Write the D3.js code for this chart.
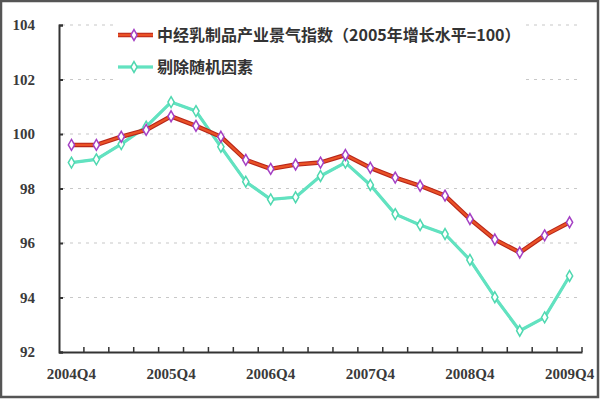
<!DOCTYPE html>
<html>
<head>
<meta charset="utf-8">
<script src="https://cdn.jsdelivr.net/npm/d3@7"></script>
<style>
  body { margin: 0; background: #fff; }
  svg { display: block; }
  .axis text { font-family: "Liberation Serif", "DejaVu Serif", serif; font-weight: bold; font-size: 15px; }
</style>
</head>
<body>
<div id="chart"></div>
<script>
var quarters = ["2004Q4","2005Q1","2005Q2","2005Q3","2005Q4","2006Q1","2006Q2","2006Q3","2006Q4",
                "2007Q1","2007Q2","2007Q3","2007Q4","2008Q1","2008Q2","2008Q3","2008Q4",
                "2009Q1","2009Q2","2009Q3","2009Q4"];
var tickLabels = ["2004Q4","2005Q4","2006Q4","2007Q4","2008Q4","2009Q4"];
var yTicks = [92, 94, 96, 98, 100, 102, 104];

var indexName = "中经乳制品产业景气指数（2005年增长水平=100）";
var indexValues = [99.6, 99.6, 99.9, 100.15, 100.65, 100.3, 99.9, 99.05, 98.72, 98.88,
                   98.95, 99.23, 98.76, 98.4, 98.1, 97.74, 96.88, 96.13, 95.65, 96.28, 96.76];

var adjName = "剔除随机因素";
var adjValues = [98.95, 99.07, 99.63, 100.27, 101.17, 100.84, 99.53, 98.25, 97.6, 97.68,
                 98.46, 98.95, 98.13, 97.06, 96.66, 96.33, 95.38, 94.01, 92.78, 93.27, 94.79];

var width = 600, height = 399;
var svg = d3.select("#chart").append("svg")
            .attr("width", width)
            .attr("height", height);

// frame
svg.append("rect")
   .attr("x", 1).attr("y", 1)
   .attr("width", width - 3).attr("height", height - 3)
   .attr("fill", "#fff")
   .attr("stroke", "#555")
   .attr("stroke-width", 2.5);

var x = d3.scaleBand().domain(quarters).range([59, 582]);
var y = d3.scaleLinear().domain([92, 104]).range([352, 25]);

// grid lines
svg.append("g")
   .selectAll("line")
   .data(yTicks.filter(function(d) { return d > 92; }))
   .enter()
   .append("line")
     .attr("x1", 62).attr("x2", 582)
     .attr("y1", function(d) { return y(d); })
     .attr("y2", function(d) { return y(d); })
     .attr("stroke", "#c8c8c8")
     .attr("stroke-width", 1.2)
     .attr("stroke-dasharray", "3,5");

// legend background covers grid lines
svg.append("rect")
   .attr("x", 114).attr("y", 14)
   .attr("width", 412).attr("height", 72)
   .attr("fill", "#fff");

// y axis
var yAxis = d3.axisLeft(y)
              .tickValues(yTicks)
              .tickSize(-4)
              .tickPadding(24)
              .tickFormat(d3.format("d"));
var gy = svg.append("g")
            .classed("axis", true)
            .attr("transform", "translate(59,0)")
            .call(yAxis);

// x axis
var boundaries = quarters.slice(1).map(function(q) { return x(q); }).concat([x.range()[1]]);
var xAxis = d3.axisBottom(x)
              .tickValues(tickLabels)
              .tickSize(0)
              .tickPadding(16);
var gx = svg.append("g")
            .classed("axis", true)
            .attr("transform", "translate(0,352)")
            .call(xAxis);

gx.selectAll(".boundary")
  .data(boundaries)
  .enter()
  .append("line")
    .classed("boundary", true)
    .attr("x1", function(d) { return d; })
    .attr("x2", function(d) { return d; })
    .attr("y1", 0).attr("y2", -5)
    .attr("stroke", "#333")
    .attr("stroke-width", 1.5);

[gx, gy].forEach(function(g) {
  g.attr("font-family", null).attr("font-size", null);
  g.select(".domain").attr("stroke", "#333").attr("stroke-width", 2);
  g.selectAll(".tick line").attr("stroke", "#333").attr("stroke-width", 2);
  g.selectAll(".tick text").attr("fill", "#3a3a3a");
});

var line = d3.line()
             .x(function(d, i) { return x(quarters[i]) + x.bandwidth() / 2; })
             .y(function(d) { return y(d); });

var diamond = d3.symbol().type(d3.symbolDiamond).size(34);

var series = [
  {name: indexName, values: indexValues, under: "#b8261a", color: "#ea5226", mark: "#a440c4", w: 4.5, ly: 35},
  {name: adjName, values: adjValues, under: "#62e2c0", color: "#62e2c0", mark: "#4fd8b0", w: 3.2, ly: 67}
];

// draw teal first so red stays on top where they cross
series.slice().reverse().forEach(function(s) {
  var g = svg.append("g");
  g.append("path")
   .attr("d", line(s.values))
   .attr("fill", "none")
   .attr("stroke", s.under)
   .attr("stroke-width", s.w)
   .attr("stroke-linejoin", "round");
  g.append("path")
   .attr("d", line(s.values))
   .attr("fill", "none")
   .attr("stroke", s.color)
   .attr("stroke-width", 2.3)
   .attr("stroke-linejoin", "round");
  g.selectAll("path.mk")
   .data(s.values)
   .enter()
   .append("path")
     .classed("mk", true)
     .attr("d", diamond)
     .attr("transform", function(d, i) {
       return "translate(" + (x(quarters[i]) + x.bandwidth() / 2) + "," + y(d) + ")";
     })
     .attr("fill", "#fff")
     .attr("stroke", s.mark)
     .attr("stroke-width", 1.5);
});

// legend
series.forEach(function(s) {
  var g = svg.append("g").attr("transform", "translate(0," + s.ly + ")");
  g.append("line").attr("x1", 118).attr("x2", 153).attr("y1", 0).attr("y2", 0)
   .attr("stroke", s.under).attr("stroke-width", s.w);
  g.append("line").attr("x1", 118).attr("x2", 153).attr("y1", 0).attr("y2", 0)
   .attr("stroke", s.color).attr("stroke-width", 2.3);
  g.append("path").attr("d", diamond).attr("transform", "translate(134,0)")
   .attr("fill", "#fff").attr("stroke", s.mark).attr("stroke-width", 1.5);
  g.append("text")
   .attr("x", 157).attr("y", 6)
   .style("font-family", "'Noto Sans CJK SC', sans-serif")
   .style("font-weight", "bold")
   .style("font-size", "16px")
   .attr("fill", "#333")
   .text(s.name);
});
</script>
</body>
</html>
